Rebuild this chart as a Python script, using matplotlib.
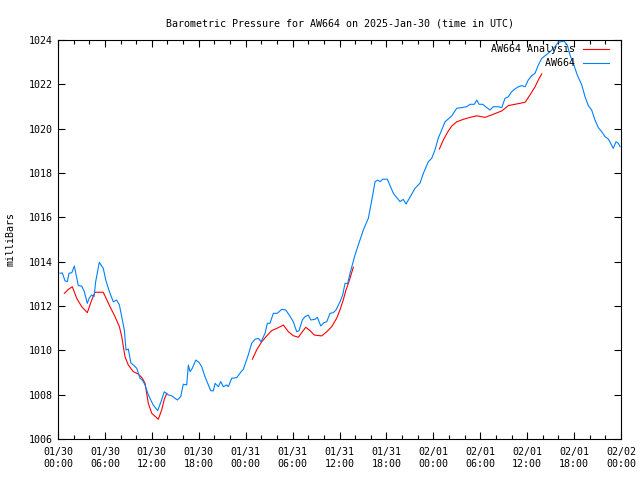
import numpy as np
import matplotlib
matplotlib.use("Agg")
from matplotlib import pyplot as plt
import matplotlib.dates as mdates
from datetime import datetime, timedelta

# hours after 2025-01-30 00:00 UTC
obs_hours = [0.26, 0.56, 0.90, 1.19, 1.41, 1.76, 2.09, 2.60, 3.03, 3.36, 3.75, 4.01, 4.31, 4.61,
             4.82, 5.28, 5.79, 6.11, 6.53, 7.07, 7.50, 7.85, 8.15, 8.48, 8.70, 8.99, 9.33, 9.63,
             10.07, 10.49, 10.79, 11.13, 11.55, 12.18, 12.75, 13.17, 13.59, 14.10, 14.54, 15.26,
             15.69, 16.02, 16.46, 16.67, 16.88, 17.18, 17.61, 18.03, 18.38, 18.80, 19.22, 19.53,
             19.86, 20.09, 20.51, 20.81, 21.14, 21.57, 21.78, 22.22, 22.86, 23.49, 23.70, 24.33,
             24.77, 25.20, 25.62, 25.97, 26.48, 26.78, 27.11, 27.54, 28.05, 28.61, 29.12, 29.58,
             30.09, 30.53, 30.83, 31.25, 31.59, 32.01, 32.33, 32.87, 33.17, 33.60, 34.02, 34.37,
             34.79, 35.21, 35.55, 36.06, 36.41, 36.71, 37.05, 37.35, 37.70, 37.98, 38.40, 39.05,
             39.69, 40.13, 40.55, 40.89, 41.18, 41.52, 42.12, 42.89, 43.74, 44.16, 44.51, 44.93,
             45.66, 46.29, 46.73, 47.36, 47.79, 48.21, 48.63, 49.07, 49.49, 49.92, 50.36, 50.99,
             51.63, 52.26, 52.70, 53.24, 53.55, 53.84, 54.32, 54.83, 55.25, 55.67, 56.31, 56.75,
             57.17, 57.59, 58.02, 58.44, 58.86, 59.30, 59.73, 60.15, 60.59, 61.01, 61.43, 61.86,
             62.28, 62.93, 63.56, 63.99, 64.71, 65.13, 65.48, 65.90, 66.41, 66.98, 67.40, 67.82,
             68.25, 68.67, 69.11, 69.54, 69.96, 70.38, 70.68, 71.01, 71.36, 71.66, 71.88]
obs_mb = [1013.48, 1013.49, 1013.13, 1013.10, 1013.48, 1013.50, 1013.80, 1012.92, 1012.90, 1012.65,
          1012.12, 1012.37, 1012.50, 1012.42, 1013.10, 1013.97, 1013.70, 1013.17, 1012.69, 1012.19,
          1012.27, 1012.05, 1011.52, 1010.92, 1010.01, 1010.06, 1009.42, 1009.34, 1009.19, 1008.74,
          1008.66, 1008.44, 1007.99, 1007.53, 1007.28, 1007.68, 1008.13, 1007.99, 1007.95, 1007.76,
          1007.91, 1008.47, 1008.44, 1009.34, 1009.04, 1009.19, 1009.56, 1009.46, 1009.26, 1008.81,
          1008.44, 1008.18, 1008.17, 1008.51, 1008.36, 1008.59, 1008.36, 1008.44, 1008.36, 1008.74,
          1008.77, 1009.07, 1009.14, 1009.79, 1010.32, 1010.50, 1010.54, 1010.39, 1010.77, 1011.22,
          1011.22, 1011.67, 1011.67, 1011.85, 1011.82, 1011.59, 1011.29, 1010.84, 1010.89, 1011.37,
          1011.52, 1011.59, 1011.37, 1011.40, 1011.49, 1011.10, 1011.25, 1011.29, 1011.67, 1011.70,
          1011.82, 1012.19, 1012.50, 1013.02, 1013.02, 1013.48, 1013.93, 1014.30, 1014.75, 1015.43,
          1015.96, 1016.78, 1017.61, 1017.68, 1017.61, 1017.72, 1017.72, 1017.08, 1016.71, 1016.81,
          1016.60, 1016.86, 1017.31, 1017.54, 1017.99, 1018.51, 1018.66, 1019.04, 1019.57, 1019.94,
          1020.31, 1020.44, 1020.58, 1020.92, 1020.95, 1020.99, 1021.10, 1021.10, 1021.29, 1021.10,
          1021.10, 1020.95, 1020.84, 1020.99, 1020.99, 1020.95, 1021.37, 1021.44, 1021.67, 1021.79,
          1021.89, 1021.94, 1021.89, 1022.20, 1022.39, 1022.50, 1022.87, 1023.17, 1023.29, 1023.47,
          1023.70, 1023.90, 1023.95, 1023.77, 1023.32, 1022.95, 1022.42, 1021.97, 1021.44, 1021.04,
          1020.84, 1020.39, 1020.04, 1019.86, 1019.64, 1019.53, 1019.34, 1019.11, 1019.41, 1019.34,
          1019.19]

# analysis, nan = gap between runs
ana_hours = [0.81, 1.32, 1.83, 2.39, 3.03, 3.75, 4.31, 4.73, 5.79, 6.65, 7.29, 7.85, 8.15, 8.57,
             8.99, 9.63, 10.28, 10.79, 11.13, 11.55, 11.99, 12.83, 13.26, 13.59, 13.91, np.nan,
             24.86, 25.41, 26.06, 26.69, 27.33, 27.98, 28.82, 29.46, 30.09, 30.74, 31.17, 31.68,
             32.22, 32.78, 33.72, 34.37, 35.01, 35.64, 36.06, 36.48, 36.83, 37.13, 37.47, 37.77,
             np.nan,
             48.77, 49.28, 49.85, 50.36, 50.99, 51.84, 52.70, 53.55, 54.60, 55.47, 56.31, 56.75,
             57.59, 58.44, 59.73, 60.36, 61.01, 61.43, 61.86]
ana_mb = [1012.57, 1012.75, 1012.87, 1012.35, 1011.97, 1011.70, 1012.27, 1012.62, 1012.62, 1011.97,
          1011.52, 1011.07, 1010.62, 1009.71, 1009.34, 1009.04, 1008.93, 1008.74, 1008.51, 1007.61,
          1007.16, 1006.89, 1007.31, 1007.79, 1008.06, np.nan,
          1009.60, 1010.02, 1010.39, 1010.65, 1010.89, 1010.99, 1011.14, 1010.84, 1010.66, 1010.59,
          1010.80, 1011.04, 1010.89, 1010.69, 1010.65, 1010.84, 1011.07, 1011.45, 1011.82, 1012.27,
          1012.72, 1013.02, 1013.40, 1013.75, np.nan,
          1019.08, 1019.49, 1019.86, 1020.12, 1020.31, 1020.42, 1020.51, 1020.58, 1020.51, 1020.62,
          1020.74, 1020.80, 1021.04, 1021.10, 1021.19, 1021.52, 1021.89, 1022.20, 1022.47]

start = datetime(2025, 1, 30)

plt.rcParams['font.family'] = ['DejaVu Sans Mono']
plt.rcParams['font.size'] = 7.2

fig = plt.figure(figsize=(6.4, 4.8), dpi=100)
ax = fig.add_axes([58 / 640, 41 / 480, 563 / 640, 399 / 480])

ana_num = [mdates.date2num(start + timedelta(hours=h)) if not np.isnan(h) else np.nan
           for h in ana_hours]
obs_num = [mdates.date2num(start + timedelta(hours=h)) for h in obs_hours]

ax.plot(ana_num, ana_mb, color='#ff0000', lw=0.8, label='AW664 Analysis')
ax.plot(obs_num, obs_mb, color='#0080ff', lw=0.8, label='         AW664')

ax.set_xlim(mdates.date2num(start), mdates.date2num(start + timedelta(hours=72)))
ax.set_ylim(1006, 1024)
ax.xaxis.set_major_locator(mdates.HourLocator(byhour=[0, 6, 12, 18]))
ax.xaxis.set_minor_locator(mdates.HourLocator(interval=2))
ax.xaxis.set_major_formatter(mdates.DateFormatter('%m/%d\n%H:%M'))
ax.set_yticks(np.arange(1006, 1025, 2))

ax.tick_params(which='both', direction='in', top=True, right=True, colors='black')
ax.tick_params(which='major', length=5, width=0.8)
ax.tick_params(which='minor', length=3, width=0.8)
ax.tick_params(axis='x', pad=6)
for s in ax.spines.values():
    s.set_linewidth(0.8)

ax.set_ylabel('milliBars', labelpad=10)
ax.set_title('Barometric Pressure for AW664 on 2025-Jan-30 (time in UTC)', fontsize=7.2, pad=10)

ax.legend(loc='upper right', bbox_to_anchor=(1.0, 1.02), frameon=False, markerfirst=False,
          handlelength=2.6, borderaxespad=0.8, labelspacing=0.4, handletextpad=0.8)

fig.savefig('out.png', dpi=100)
